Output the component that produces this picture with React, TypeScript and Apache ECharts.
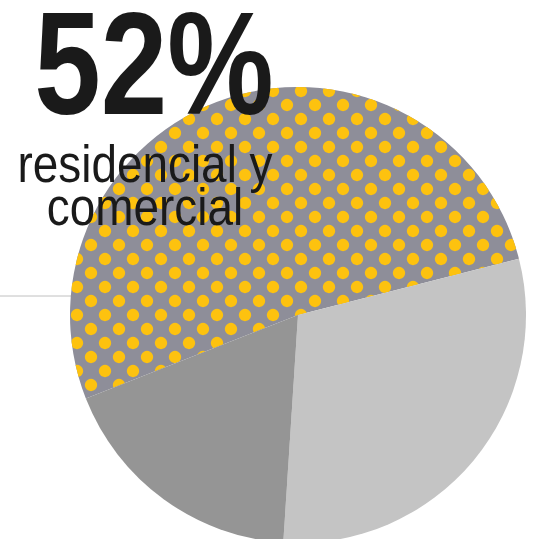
import React, { useEffect, useRef } from "react";
import * as echarts from "echarts";

const categories = ["residencial y comercial", "otros A", "otros B"];
const values = [52, 30, 18];
const headline = "52%";
const subtitleLines = ["residencial y", "comercial"];

export default function App() {
  const ref = useRef<HTMLDivElement>(null);
  useEffect(() => {
    const chart = echarts.init(ref.current!, null, { renderer: "svg" });
    const colors = ["#8E8E99", "#C4C4C4", "#959595"];
    chart.setOption({
      animation: false,
      backgroundColor: "#ffffff",
      series: [
        {
          type: "pie",
          center: [298, 315],
          radius: 228,
          startAngle: 201.5,
          clockwise: true,
          label: { show: false },
          labelLine: { show: false },
          silent: true,
          z: 2,
          data: categories.map((name, i) => ({
            name,
            value: values[i],
            itemStyle: {
              color: colors[i],
              borderWidth: 0,
              decal:
                i === 0
                  ? {
                      symbol: "circle",
                      symbolSize: 0.88,
                      color: "#FDC20F",
                      dashArrayX: [
                        [14, 14],
                        [0, 14, 14, 0],
                      ],
                      dashArrayY: [14, 0],
                      rotation: 0,
                    }
                  : "none",
            },
          })),
        },
      ],
      aria: { enabled: false, decal: { show: true } },
      graphic: [
        {
          type: "line",
          z: 0,
          shape: { x1: 0, y1: 296, x2: 80, y2: 296 },
          style: { stroke: "#C0C0C0", lineWidth: 1 },
        },
        {
          type: "text",
          z: 100,
          x: 154,
          y: 136,
          scaleX: 0.82,
          style: {
            text: headline,
            fontFamily: "Liberation Sans, Arial, sans-serif",
            fontWeight: "bold",
            fontSize: 146,
            fill: "#1a1a1a",
            textAlign: "center",
            textVerticalAlign: "bottom",
          },
        },
        {
          type: "text",
          z: 100,
          x: 145,
          y: 190,
          scaleX: 0.9,
          style: {
            text: subtitleLines[0],
            fontFamily: "Liberation Sans, Arial, sans-serif",
            fontSize: 51,
            fill: "#1a1a1a",
            textAlign: "center",
            textVerticalAlign: "bottom",
          },
        },
        {
          type: "text",
          z: 100,
          x: 145,
          y: 233,
          scaleX: 0.9,
          style: {
            text: subtitleLines[1],
            fontFamily: "Liberation Sans, Arial, sans-serif",
            fontSize: 51,
            fill: "#1a1a1a",
            textAlign: "center",
            textVerticalAlign: "bottom",
          },
        },
      ],
    });
    return () => chart.dispose();
  }, []);
  return (
    <div
      ref={ref}
      style={{ position: "fixed", left: 0, top: 0, width: 533, height: 539 }}
    />
  );
}
